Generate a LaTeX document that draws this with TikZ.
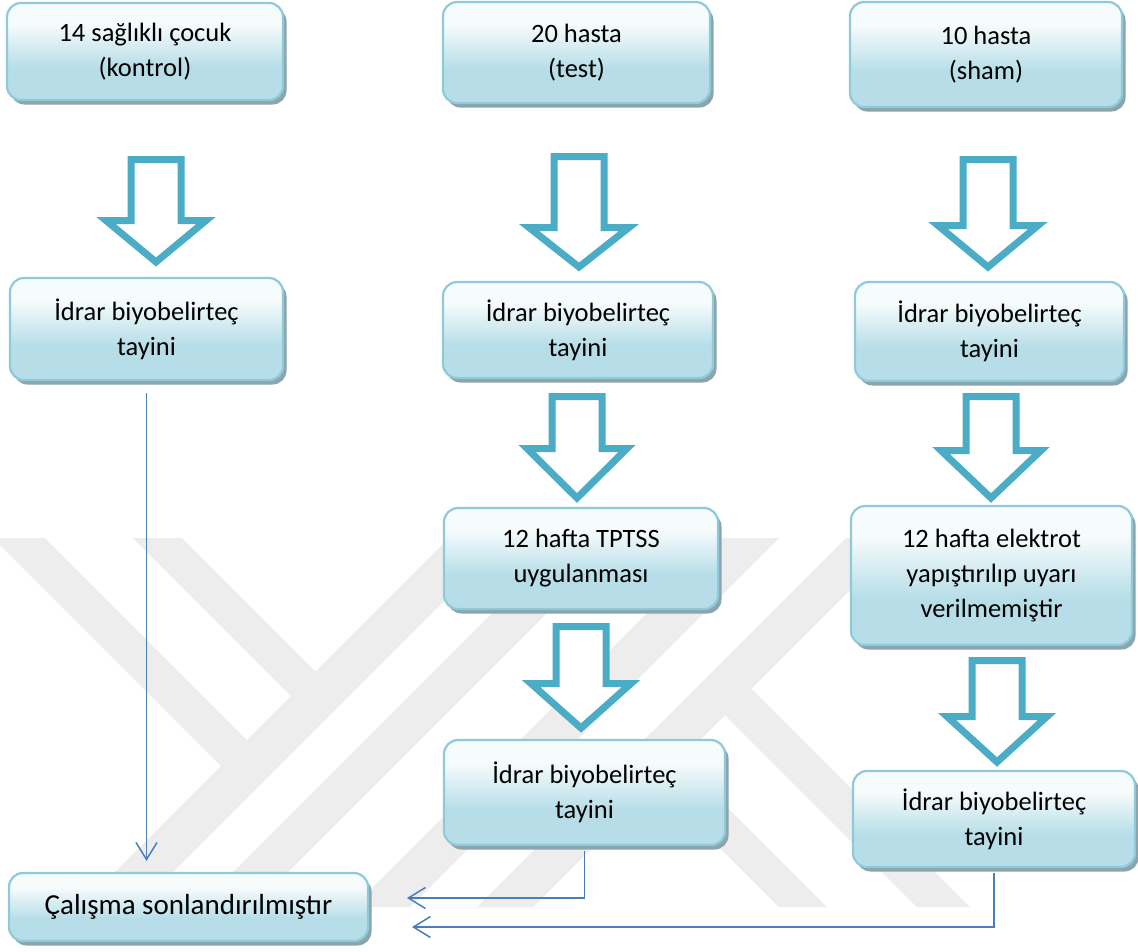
\documentclass[tikz,border=0pt]{standalone}
\usepackage{fontspec}
\setmainfont{Carlito}
\usetikzlibrary{arrows.meta,shadows,calc}
\definecolor{arrc}{RGB}{75,172,198}
\definecolor{bxline}{RGB}{141,203,219}
\definecolor{bxb}{RGB}{183,222,232}
\definecolor{bxt}{RGB}{246,251,252}
\definecolor{shc}{RGB}{140,164,172}
\definecolor{connc}{RGB}{74,126,187}
\definecolor{wm}{RGB}{237,237,237}
\pgfdeclareverticalshading{boxsh}{100bp}{color(0bp)=(bxb); color(42bp)=(bxb); color(64bp)=(bxt); color(100bp)=(bxt)}
\newcommand\blockarr[4]{%
  \draw[blk] ({#1-25},{#2+3.5}) -- ({#1+25},{#2+3.5}) -- ({#1+25},{#3+3.5}) -- ({#1+50},{#3+3.5})
    -- ({#1},{#4-5}) -- ({#1-50},{#3+3.5}) -- ({#1-25},{#3+3.5}) -- cycle;}
\tikzset{
  box/.style={draw=bxline, line width=2.2pt, rounded corners=14pt, shading=boxsh,
    drop shadow={shadow xshift=3.5pt, shadow yshift=-4.5pt, fill=shc, opacity=1},
    align=center, inner sep=0pt, font=\fontsize{26.5pt}{35pt}\selectfont},
  bigtext/.style={font=\fontsize{29pt}{36pt}\selectfont},
  blk/.style={draw=arrc, line width=7pt, fill=white, line join=miter},
  conn/.style={draw=connc, line width=1.5pt, -{Straight Barb[length=17pt,width=21pt]}},
}
\begin{document}
\begin{tikzpicture}[x=1pt,y=-1pt]
\useasboundingbox (0,0) rectangle (1138,951);
\clip (0,0) rectangle (1138,951);
\fill[white] (0,0) rectangle (1138,951);
% watermark
\fill[wm] (-7,538) -- (45,538) -- (247,740) -- (221,766) -- cycle;
\fill[wm] (133,538) -- (182,538) -- (315.5,671.5) -- (291,696) -- cycle;
\fill[wm] (449,538) -- (507,538) -- (138,907) -- (80,907) -- cycle;
\fill[wm] (567,538) -- (622,538) -- (253,907) -- (198,907) -- cycle;
\fill[wm] (722,538) -- (779,538) -- (410,907) -- (353,907) -- cycle;
\fill[wm] (846,538) -- (902,538) -- (533,907) -- (477,907) -- cycle;
\fill[wm] (725,715) -- (751.5,688.5) -- (970,907) -- (917,907) -- cycle;
\fill[wm] (628,756) -- (652,732) -- (827,907) -- (779,907) -- cycle;
% boxes
\node[box, minimum width=276pt, minimum height=97pt] (B1) at (145,51.5) {14 sağlıklı çocuk\\(kontrol)};
\node[box, minimum width=267pt, minimum height=101pt] (B2) at (576.5,52.5) {20 hasta\\(test)};
\node[box, minimum width=272pt, minimum height=105pt] (B3) at (986,54.5) {10 hasta\\(sham)};
\node[box, minimum width=273pt, minimum height=102pt] (B4) at (146.5,329) {İdrar biyobelirteç\\tayini};
\node[box, minimum width=270pt, minimum height=96pt] (B5) at (578,330) {İdrar biyobelirteç\\tayini};
\node[box, minimum width=269pt, minimum height=99pt] (B6) at (989.5,331.5) {İdrar biyobelirteç\\tayini};
\node[box, minimum width=274pt, minimum height=101pt] (B7) at (581,558.5) {12 hafta TPTSS\\uygulanması};
\node[box, minimum width=281pt, minimum height=139pt] (B8) at (991.5,575.5) {12 hafta elektrot\\yapıştırılıp uyarı\\verilmemiştir};
\node[box, minimum width=281pt, minimum height=105pt] (B9) at (584.5,792.5) {İdrar biyobelirteç\\tayini};
\node[box, minimum width=282pt, minimum height=96pt] (B10) at (994,819) {İdrar biyobelirteç\\tayini};
\node[box, bigtext, minimum width=359pt, minimum height=68pt] (B11) at (188.5,907) {Çalışma sonlandırılmıştır};
% block arrows
\blockarr{156}{156}{217}{267}
\blockarr{579}{153}{224}{272}
\blockarr{988}{156}{222}{272}
\blockarr{577}{393}{445}{503}
\blockarr{991}{393}{447}{503}
\blockarr{581}{623}{680}{733}
\blockarr{997}{657}{713}{767}
% connectors
\coordinate (lt) at (B4.south |- B11.north);
\coordinate (mA) at (407,898);
\coordinate (mB) at (412,927);
\draw[conn] ([yshift=-12pt]B4.south) -- ([yshift=11pt]lt);
\draw[conn] ([yshift=-5pt]B9.south) |- (mA);
\draw[conn] ([yshift=-5pt]B10.south) |- (mB);
\end{tikzpicture}
\end{document}
